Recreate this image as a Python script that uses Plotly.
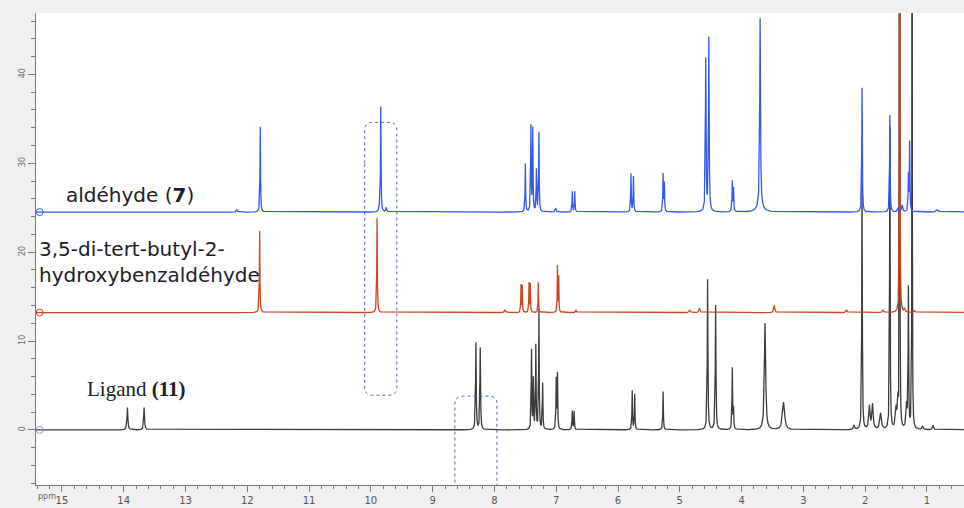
import numpy as np
import plotly.graph_objects as go

# ---------------- data ----------------
# baselines (stack offsets, intensity units)
base_ligand = 0.0
base_salicyl = 13.2
base_aldehyde = 24.5

# aldéhyde (7) : peak ppm, height above baseline, half-width (ppm)
ald_ppm = [12.17, 11.79, 9.86, 9.84, 9.75, 7.50, 7.41, 7.38, 7.32, 7.28, 7.01, 6.74, 6.70,
           5.79, 5.75, 5.27, 5.25, 4.58, 4.53, 4.15, 4.13, 3.70, 3.70, 2.05, 1.60, 1.47,
           1.40, 1.30, 1.28, 0.83]
ald_h = [0.3, 9.6, 0.6, 11.8, 0.5, 5.4, 9.6, 9.3, 4.7, 8.9, 0.4, 2.3, 2.3,
         4.3, 4.0, 4.2, 3.2, 17.1, 19.5, 3.4, 2.6, 21.0, 0.8, 14.0, 10.9, 0.4,
         0.8, 4.0, 7.8, 0.3]
ald_w = [0.01, 0.005, 0.008, 0.005, 0.008, 0.005, 0.005, 0.005, 0.005, 0.005, 0.01, 0.005, 0.005,
         0.005, 0.005, 0.005, 0.005, 0.006, 0.006, 0.005, 0.005, 0.007, 0.05, 0.005, 0.005, 0.01,
         0.01, 0.005, 0.005, 0.02]

# 3,5-di-tert-butyl-2-hydroxybenzaldéhyde
sal_ppm = [11.80, 9.90, 7.83, 7.57, 7.55, 7.44, 7.42, 7.29, 6.98, 6.96, 6.68, 4.84, 4.68,
           3.47, 2.30, 1.71, 1.44, 1.36, 1.20]
sal_h = [9.2, 10.6, 0.3, 3.1, 3.0, 3.3, 3.2, 3.4, 5.2, 4.0, 0.25, 0.3, 0.5,
         0.8, 0.3, 0.3, 90.0, 0.4, 0.2]
sal_w = [0.005, 0.005, 0.01, 0.004, 0.004, 0.004, 0.004, 0.004, 0.004, 0.004, 0.01, 0.01, 0.01,
         0.01, 0.01, 0.01, 0.003, 0.01, 0.01]

# Ligand (11)
lig_ppm = [13.94, 13.67, 8.30, 8.23, 7.40, 7.37, 7.33, 7.28, 7.22, 7.00, 6.98, 6.74, 6.71,
           5.77, 5.73, 5.27, 4.55, 4.42, 4.15, 4.13, 3.62, 3.32, 2.18, 2.05, 1.93, 1.88,
           1.75, 1.60, 1.50, 1.47, 1.44, 1.33, 1.30, 1.24, 1.07, 0.90]
lig_h = [2.5, 2.5, 9.8, 9.2, 8.9, 5.6, 9.4, 13.5, 5.2, 5.6, 6.2, 2.1, 2.1,
         4.4, 4.0, 4.3, 16.9, 14.0, 6.9, 2.3, 12.0, 3.1, 0.5, 29.4, 2.6, 2.8,
         1.8, 34.0, 2.2, 3.0, 90.0, 2.6, 15.7, 90.0, 0.4, 0.5]
lig_w = [0.008, 0.008, 0.006, 0.006, 0.005, 0.005, 0.005, 0.005, 0.005, 0.005, 0.005, 0.005, 0.005,
         0.005, 0.005, 0.005, 0.006, 0.006, 0.005, 0.005, 0.012, 0.02, 0.01, 0.005, 0.012, 0.012,
         0.015, 0.005, 0.012, 0.01, 0.003, 0.01, 0.005, 0.003, 0.01, 0.01]

x_ticks = [15, 14, 13, 12, 11, 10, 9, 8, 7, 6, 5, 4, 3, 2, 1]
y_ticks = [0, 10, 20, 30, 40]


def spectrum(ppm, h, w, base):
    grid = np.union1d(np.arange(0.3, 15.5, 0.0015), np.array(ppm))
    y = np.full(grid.shape, base, dtype=float)
    for p, a, g in zip(ppm, h, w):
        y += a / (1.0 + ((grid - p) / g) ** 2)
    return grid, y


fig = go.Figure()
series = [
    ("Ligand (11)", lig_ppm, lig_h, lig_w, base_ligand, "rgba(25,25,25,0.85)"),
    ("3,5-di-tert-butyl-2-hydroxybenzaldéhyde", sal_ppm, sal_h, sal_w, base_salicyl, "#c9461f"),
    ("aldéhyde (7)", ald_ppm, ald_h, ald_w, base_aldehyde, "#3358ee"),
]
for name, p, h, w, b, col in series:
    gx, gy = spectrum(p, h, w, b)
    fig.add_trace(go.Scatter(x=gx, y=gy, mode="lines", name=name,
                             line=dict(color=col, width=1.3), showlegend=False))
    fig.add_trace(go.Scatter(x=[15.36], y=[b], mode="markers", showlegend=False,
                             marker=dict(symbol="circle-open", size=7,
                                         color="#8899cc" if b == 0 else col, line=dict(width=1))))

# dashed rounded boxes (highlight regions)
fig.add_shape(type="path", xref="x", yref="y",
              path="M 10.10 30 L 10.10 33.7 Q 10.10 34.6 9.97 34.6 L 9.71 34.6 Q 9.58 34.6 9.58 33.7 "
                   "L 9.58 4.8 Q 9.58 3.9 9.71 3.9 L 9.97 3.9 Q 10.10 3.9 10.10 4.8 Z",
              line=dict(color="#4a6aa8", width=1, dash="dot"))
fig.add_shape(type="path", xref="x", yref="y",
              path="M 8.64 -12 L 8.64 2.9 Q 8.64 3.8 8.51 3.8 L 8.09 3.8 Q 7.96 3.8 7.96 2.9 L 7.96 -12",
              line=dict(color="#4a6aa8", width=1, dash="dot"))

fig.add_annotation(x=14.97, y=26.4, xref="x", yref="y", text="aldéhyde (<b>7</b>)",
                   showarrow=False, xanchor="left", yanchor="middle",
                   font=dict(family="DejaVu Sans", size=20, color="#1c1c2a"))
fig.add_annotation(x=15.41, y=18.9, xref="x", yref="y",
                   text="3,5-di-tert-butyl-2-<br>hydroxybenzaldéhyde",
                   showarrow=False, xanchor="left", yanchor="middle", align="left",
                   font=dict(family="DejaVu Sans", size=20, color="#1c1c2a"))
fig.add_annotation(x=14.63, y=4.6, xref="x", yref="y", text="Ligand <b>(11)</b>",
                   showarrow=False, xanchor="left", yanchor="middle",
                   font=dict(family="Liberation Serif", size=21, color="#222"))
fig.add_annotation(x=0.0, y=-0.01, xref="paper", yref="paper", text="ppm",
                   showarrow=False, xanchor="left", yanchor="top",
                   font=dict(family="DejaVu Sans", size=8, color="#666"))

fig.update_layout(
    width=964, height=508,
    margin=dict(l=36, r=0, t=13, b=23),
    paper_bgcolor="#f0f0f0", plot_bgcolor="white",
    xaxis=dict(range=[15.42, 0.40], tickvals=x_ticks, ticktext=[str(v) for v in x_ticks],
               showgrid=False, zeroline=False, showline=True, linecolor="#777", linewidth=1,
               ticks="outside", ticklen=6, tickcolor="#777",
               minor=dict(dtick=0.2, ticks="outside", ticklen=3, tickcolor="#777"),
               tickfont=dict(family="DejaVu Sans", size=10, color="#555")),
    yaxis=dict(range=[-6.2, 46.9], tickvals=y_ticks, ticktext=[str(v) for v in y_ticks],
               showgrid=False, zeroline=False, showline=True, linecolor="#777", linewidth=1,
               ticks="outside", ticklen=7, tickcolor="#777", tickangle=-90,
               minor=dict(dtick=2, ticks="outside", ticklen=4, tickcolor="#777"),
               tickfont=dict(family="DejaVu Sans", size=8, color="#666")),
)

fig.write_html("out.html", config={"displayModeBar": False})

# remove the browser's default page margin so the figure fills the window
with open("out.html", "r", encoding="utf-8") as f:
    html = f.read()
html = html.replace("<head>", "<head><style>html,body{margin:0;padding:0;overflow:hidden;}</style>", 1)
with open("out.html", "w", encoding="utf-8") as f:
    f.write(html)
